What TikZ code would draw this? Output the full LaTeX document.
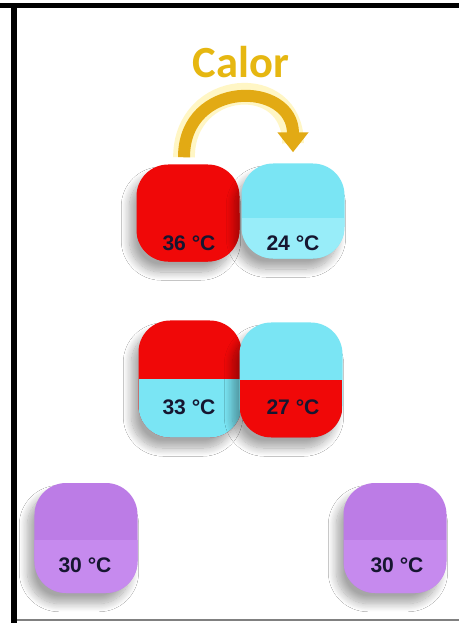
\documentclass[tikz,border=0pt]{standalone}
\usepackage{fontspec}
\setmainfont{Liberation Sans}
\newfontfamily\calorfont{Carlito}
\usetikzlibrary{arrows.meta,shadows.blur,calc}
\definecolor{rojo}{RGB}{240,8,8}
\definecolor{cian}{RGB}{122,229,244}
\definecolor{cianclaro}{RGB}{152,237,249}
\definecolor{morado}{RGB}{188,124,230}
\definecolor{moradoclaro}{RGB}{198,138,238}
\definecolor{oro}{RGB}{226,170,20}
\definecolor{brillo}{RGB}{255,238,140}
\definecolor{tinta}{RGB}{22,22,48}
\begin{document}
\begin{tikzpicture}[
        x=0.03cm, y=-0.03cm,
        split/.store in=\splitshift,
        split=0pt,
        pill/.style 2 args={
            fill=#1,
            rounded corners=0.95cm,
            minimum width=3.09cm,
            inner sep=0pt,
            blur shadow={shadow xshift=-6pt, shadow yshift=-9pt,
                shadow blur radius=7pt, shadow blur steps=14, shadow opacity=35},
            path picture={\fill[#2, sharp corners] ([yshift=-6pt]path picture bounding box.south west)
                rectangle ([yshift=\splitshift]path picture bounding box.east);}
        },
        temp/.style={
            text=tinta,
            font=\fontsize{18}{20}\selectfont\bfseries,
            inner sep=0pt
        },
        heat/.style={
            -{Triangle[width=0.9cm,length=0.6cm]},
            line width=0.36cm,
            draw=oro
        }
    ]
        \useasboundingbox (0,0) rectangle (459,623);
        \fill[white] (0,0) rectangle (459,623);
        \fill[black] (0,3) rectangle (459,8);
        \fill[black] (11,3) rectangle (17,623);
        \draw[gray, line width=1pt] (17,620) -- (459,620);

        \node[pill={rojo}{rojo}, minimum height=2.91cm] (p36) at (188,213) {};
        \node[pill={cian}{cianclaro}, minimum height=2.85cm, split=-6pt] (p24) at (293,211) {};
        \node[pill={rojo}{cian}, minimum height=3.51cm] (p33) at (190,379) {};
        \node[pill={cian}{rojo}, minimum height=3.45cm] (p27) at (291,380) {};
        \node[pill={morado}{moradoclaro}, minimum height=3.3cm, split=-2pt] (p30a) at (86,538) {};
        \node[pill={morado}{moradoclaro}, minimum height=3.3cm, split=-2pt] (p30b) at (395,538) {};

        \node[temp] (t36) at (189,243) {36 °C};
        \node[temp] (t24) at (293,243) {24 °C};
        \node[temp] (t33) at (189,407) {33 °C};
        \node[temp] (t27) at (293,407) {27 °C};
        \node[temp] (t30a) at (85,565) {30 °C};
        \node[temp] (t30b) at (397,565) {30 °C};

        \node[text=oro!85!yellow, font=\calorfont\fontsize{38}{40}\selectfont\bfseries]
            (calor) at (241,62) {Calor};

        \draw[brillo, line width=0.65cm, opacity=0.5]
            ($(p36.north)+(-4,-7)$) .. controls +(0,-78) and +(0,-72) .. ($(p24.north)+(0,-20)$);
        \draw[heat]
            ($(p36.north)+(-4,-7)$) .. controls +(0,-78) and +(0,-72) .. ($(p24.north)+(0,-11)$);
    \end{tikzpicture}
\end{document}
